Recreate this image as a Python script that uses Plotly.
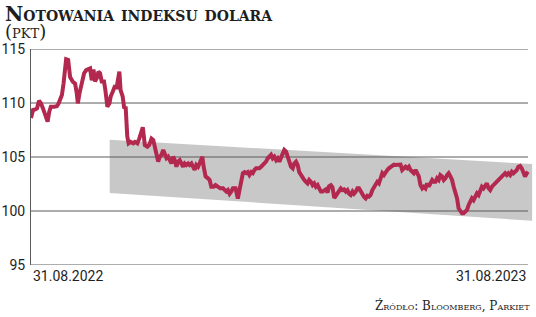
import plotly.graph_objects as go

# ---- data ----
# days since 31.08.2022
days = [0, 1.5, 3.1, 4.4, 5.9, 7.3, 8.8, 10.5, 12.2, 13.4, 14.6, 17.0, 19.0, 20.3, 21.4, 22.7,
        23.9, 24.9, 25.8, 27.3, 28.7, 30.7, 32.4, 33.6, 34.4, 35.6, 37.3, 39.0, 40.5, 42.2,
        43.4, 44.6, 45.9, 47.0, 48.3, 49.5, 50.7, 51.9, 53.6, 54.6, 56.1, 57.6, 58.5, 60.0,
        61.4, 62.9, 63.9, 64.9, 65.8, 67.3, 68.5, 69.5, 70.7, 71.7, 73.2, 75.1, 76.3, 78.1,
        79.5, 81.2, 82.1, 83.6, 85.4, 86.8,
        88.5, 89.8, 90.9, 92.2, 93.4, 94.6, 95.8, 97.1, 98.2, 99.5, 100.7, 101.9, 103.1, 104.4,
        105.6, 106.8, 108.0, 109.2, 110.5, 111.7, 112.9, 114.1, 115.4, 116.5, 117.8, 119.0,
        120.2, 121.4, 122.7, 123.8, 125.1, 125.8, 126.8, 128.2, 130.0, 131.2, 132.4, 134.1,
        135.5, 137.3, 139.0, 141.0, 142.1, 143.4, 144.6, 145.8, 147.0, 148.3, 150.2, 151.9,
        153.1, 154.3, 155.6, 156.8, 158.0, 159.2, 160.4, 161.7, 162.9, 164.1, 165.3, 166.6,
        167.7, 169.0, 170.2, 171.4, 172.6, 173.9, 175.1, 176.3, 177.5, 178.7, 180.0, 181.2,
        182.4, 183.6, 184.8, 186.0, 187.3, 188.5, 189.7, 190.9, 192.2, 193.3, 194.6, 195.8,
        197.0, 198.2, 199.5, 200.7, 201.9, 203.1, 204.3, 205.6, 206.8, 208.0, 209.2, 210.5,
        211.6, 212.9, 214.1, 215.3, 216.5, 217.8, 218.9, 220.2, 221.4, 222.7, 223.8, 225.1,
        226.3, 227.5, 228.7, 229.9, 231.2, 232.4, 233.6, 234.8, 236.1, 237.2, 238.5, 239.7,
        240.9, 242.1, 243.4, 244.5, 245.8, 247.0, 248.2, 249.4, 250.7, 251.9, 253.1, 254.3,
        255.5, 256.8, 258.0, 259.2, 260.4, 261.7, 262.8, 264.1, 265.3, 266.5, 267.7, 269.0,
        270.1, 271.4, 272.6, 273.8, 275.0, 276.3, 277.5, 278.7, 279.9, 281.1, 282.4, 283.6,
        284.8, 286.0, 287.3, 288.4, 289.7, 290.9, 292.1, 293.3, 294.6, 295.7, 297.0, 298.2,
        299.4, 300.6, 301.9, 303.1, 304.3, 305.5, 306.7, 308.0, 309.2, 310.4, 311.6, 312.9,
        314.0, 315.3, 316.5, 317.7, 318.9, 320.2, 321.4, 322.6, 323.8, 325.0, 326.2, 327.5,
        328.7, 329.9, 331.1, 332.3, 333.6, 334.8, 336.0, 337.2, 338.5, 339.6, 340.9, 342.1,
        343.3, 344.5, 345.8, 347.0, 348.2, 349.4, 350.6, 351.9, 353.1, 354.3, 355.5, 356.8,
        357.9, 359.2, 360.4, 361.6, 362.8, 364.1, 365.0]

index_vals = [108.6, 109.35, 109.4, 109.5, 110.2, 109.97, 109.5, 108.9, 108.27, 109.2, 109.66,
              109.66, 109.7, 109.97, 110.34, 110.74, 111.8, 113.5, 114.05, 113.98, 112.4, 111.97,
              111.8, 110.9, 109.97, 110.9, 111.97, 112.75, 113.05, 113.2, 113.2, 112.1, 113.1,
              112.0, 112.3, 112.9, 112.75, 112.0, 112.0, 111.2, 109.66, 109.97, 110.6, 111.05,
              111.5, 111.45, 112.0, 112.9, 111.2, 110.6, 109.5, 109.66, 106.9, 106.27, 106.4,
              106.27, 106.4, 106.27, 106.7, 107.3, 107.75, 106.1, 105.95, 106.1,
              106.7, 106.57, 105.95, 105.2, 104.57, 105.03, 105.2, 105.65, 105.2, 104.9, 105.03,
              104.57, 104.4, 105.03, 104.7, 104.1, 104.57, 104.7, 104.26, 104.1, 104.4, 104.26,
              104.4, 104.26, 104.4, 104.1, 103.8, 104.26, 104.1, 104.4, 104.88, 105.03, 104.1,
              103.2, 103.03, 102.87, 102.25, 102.25, 102.4, 102.25, 102.1, 102.1, 101.94, 101.8,
              101.94, 101.6, 101.8, 102.1, 102.1, 101.15, 101.94, 102.56, 103.5, 103.6, 103.5,
              103.6, 103.33, 103.6, 103.5, 103.8, 103.95, 103.95, 103.95, 104.1, 104.26, 104.4,
              104.57, 104.88, 105.03, 105.2, 104.88, 105.03, 104.7, 104.88, 104.57, 104.88,
              105.35, 105.65, 105.5, 105.03, 104.4, 104.1, 103.95, 104.4, 104.57, 104.26, 103.6,
              103.33, 103.2, 102.87, 102.7, 102.56, 102.87, 102.7, 102.4, 102.56, 102.25, 102.4,
              102.1, 101.8, 101.8, 101.94, 102.0, 101.7, 102.3, 102.4, 102.2, 101.2, 101.4,
              101.6, 101.94, 102.1, 101.94, 102.0, 101.8, 101.94, 101.6, 101.48, 101.8, 101.6,
              101.8, 102.1, 102.1, 101.8, 101.48, 101.33, 101.17, 101.4, 101.33, 101.48, 101.94,
              102.25, 102.56, 102.7, 102.56, 103.03, 103.5, 103.33, 103.64, 103.8, 103.95, 104.1,
              104.26, 104.3, 104.26, 104.3, 104.26, 104.3, 103.8, 103.95, 104.1, 103.95, 104.1,
              103.8, 103.64, 103.5, 103.8, 103.5, 103.2, 102.4, 102.1, 102.25, 102.1, 102.56,
              102.25, 102.56, 102.87, 102.7, 102.7, 103.03, 102.87, 103.33, 103.2, 102.87, 103.03,
              103.33, 103.5, 103.2, 102.87, 102.25, 101.8, 101.17, 100.25, 99.94, 99.79, 99.79,
              99.94, 100.1, 100.56, 100.86, 101.17, 101.0, 101.33, 101.64, 101.48, 101.94, 102.25,
              102.1, 102.4, 102.56, 102.1, 101.94, 102.25, 102.4, 102.56, 102.7, 102.87, 103.03,
              103.2, 103.33, 103.5, 103.33, 103.5, 103.33, 103.64, 103.5, 103.64, 103.8, 104.1,
              104.17, 103.95, 103.64, 103.2, 103.5, 103.64]

# trend channel (days, upper, lower)
band_days = [57.8, 368.0]
band_upper = [106.6, 104.35]
band_lower = [101.67, 99.1]

y_ticks = [95, 100, 105, 110, 115]
x_tick_days = [0, 365]
x_tick_labels = ["31.08.2022", "31.08.2023"]

title_text = "Notowania indeksu dolara"
unit_text = "(pkt)"
source_text = "Źródło: Bloomberg, Parkiet"

# ---- layout constants ----
W, H = 536, 317
L, R, T, B = 29, 2, 49, 52
LINE_COLOR = "#B3284F"
BAND_COLOR = "#C8C8C8"
GRID_COLOR = "#5a5a5a"
TEXT_COLOR = "#1e1e1e"
SERIF = "DejaVu Serif"

fig = go.Figure()
fig.add_trace(go.Scatter(
    x=days, y=index_vals, mode="lines",
    line=dict(color=LINE_COLOR, width=4, shape="linear"),
    hoverinfo="skip", showlegend=False,
))

shapes = []
band_path = (f"M {band_days[0]},{band_upper[0]} L {band_days[1]},{band_upper[1]} "
             f"L {band_days[1]},{band_lower[1]} L {band_days[0]},{band_lower[0]} Z")
shapes.append(dict(type="path", path=band_path, xref="x", yref="y",
                   fillcolor=BAND_COLOR, line=dict(width=0), layer="below"))
for yv in y_ticks:
    shapes.append(dict(type="line", xref="x", yref="y", x0=x_tick_days[0], x1=x_tick_days[1],
                       y0=yv, y1=yv, line=dict(color=GRID_COLOR, width=1), layer="below"))

annotations = []
for d, lab, anc in zip(x_tick_days, x_tick_labels, ["left", "right"]):
    annotations.append(dict(x=d, y=-0.052, xref="x", yref="paper", text=lab,
                            showarrow=False, xanchor=anc, yanchor="middle",
                            font=dict(family="Roboto", size=14, color=TEXT_COLOR)))

plot_w = W - L - R
plot_h = H - T - B


def px_x(px):
    return (px - L) / plot_w


def px_y(py):
    return (H - B - py) / plot_h


header = (f"<span style='font-size:20px;font-weight:bold'>{title_text}</span><br>"
          f"<span style='font-size:18px'>{unit_text}</span>")
annotations.append(dict(x=px_x(1), y=px_y(0), xref="paper", yref="paper",
                        text=header, showarrow=False, xanchor="left", yanchor="top",
                        align="left",
                        font=dict(family=SERIF, size=13, color=TEXT_COLOR,
                                  variant="small-caps")))
annotations.append(dict(x=px_x(532), y=px_y(305), xref="paper", yref="paper",
                        text=source_text, showarrow=False, xanchor="right", yanchor="middle",
                        font=dict(family=SERIF, size=12, color=TEXT_COLOR,
                                  variant="small-caps")))

fig.update_layout(
    width=W, height=H,
    margin=dict(l=L, r=R, t=T, b=B),
    paper_bgcolor="white", plot_bgcolor="white",
    xaxis=dict(range=[0, (W - L - R) / ((528 - L) / 365)], showgrid=False, zeroline=False,
               showticklabels=False, ticks="", showline=False, fixedrange=True),
    yaxis=dict(range=[95, 115], tickvals=y_ticks, showgrid=False, zeroline=False,
               ticks="", showline=True, linecolor=GRID_COLOR, linewidth=1,
               tickfont=dict(family="Roboto", size=14, color=TEXT_COLOR), ticklabelstandoff=2),
    shapes=shapes,
    annotations=annotations,
    showlegend=False,
)

fig.write_html("out.html")
